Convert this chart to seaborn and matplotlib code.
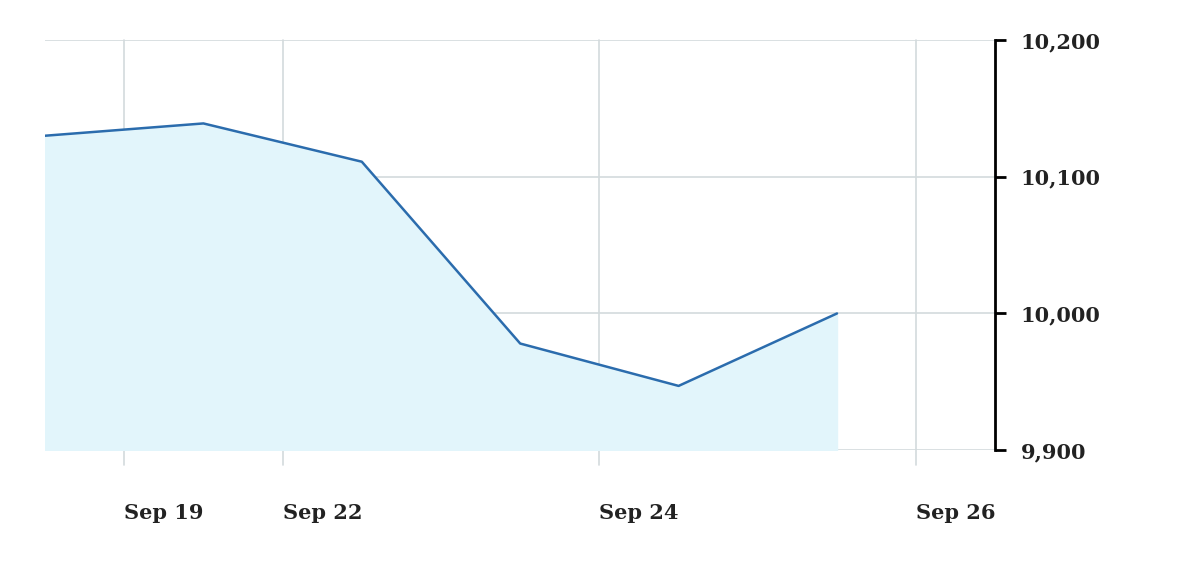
import numpy as np
import pandas as pd
import matplotlib.pyplot as plt
import seaborn as sns

# trading-day index positions (Sep 19 = 0)
day_pos = [-0.5, 0.5, 1.5, 2.5, 3.5, 4.5]
values = [10130, 10139, 10111, 9978, 9947, 10000]
tick_pos = [0, 1, 3, 5]
tick_labels = ["Sep 19", "Sep 22", "Sep 24", "Sep 26"]
y_ticks = [9900, 10000, 10100, 10200]

df = pd.DataFrame({"x": day_pos, "y": values})

sns.set_style("white")
plt.rcParams['font.family'] = ['DejaVu Serif']

fig = plt.figure(figsize=(12, 5.72), dpi=100)
ax = fig.add_axes([0.0375, 0.213, 0.792, 0.717])

ax.fill_between(df["x"], df["y"], 9900, color="#e2f5fb", zorder=1)
sns.lineplot(data=df, x="x", y="y", ax=ax, color="#2b6cad", linewidth=1.8, zorder=3)

ax.set_xlim(-0.5, 5.5)
ax.set_ylim(9900, 10200)
for t in tick_pos:
    ax.axvline(t, color="#d3dadd", linewidth=1.2, ymin=-0.035, ymax=1, clip_on=False, zorder=0)
for v in y_ticks:
    ax.axhline(v, color="#d3dadd", linewidth=1.2, zorder=0)

ax.set_xticks(tick_pos)
ax.set_xticklabels(tick_labels, fontsize=15, fontweight="bold", color="#222222", ha="left")
ax.tick_params(axis="x", length=0, pad=38)
ax.yaxis.tick_right()
ax.set_yticks(y_ticks)
ax.set_yticklabels([f"{v:,}" for v in y_ticks], fontsize=15, fontweight="bold", color="#222222")
ax.tick_params(axis="y", length=8, width=2, color="black", pad=10, direction="out")
for s in ["top", "left", "bottom"]:
    ax.spines[s].set_visible(False)
ax.spines["right"].set_linewidth(2)
ax.spines["right"].set_color("black")
ax.set_xlabel("")
ax.set_ylabel("")

fig.savefig("out.png", dpi=100)
